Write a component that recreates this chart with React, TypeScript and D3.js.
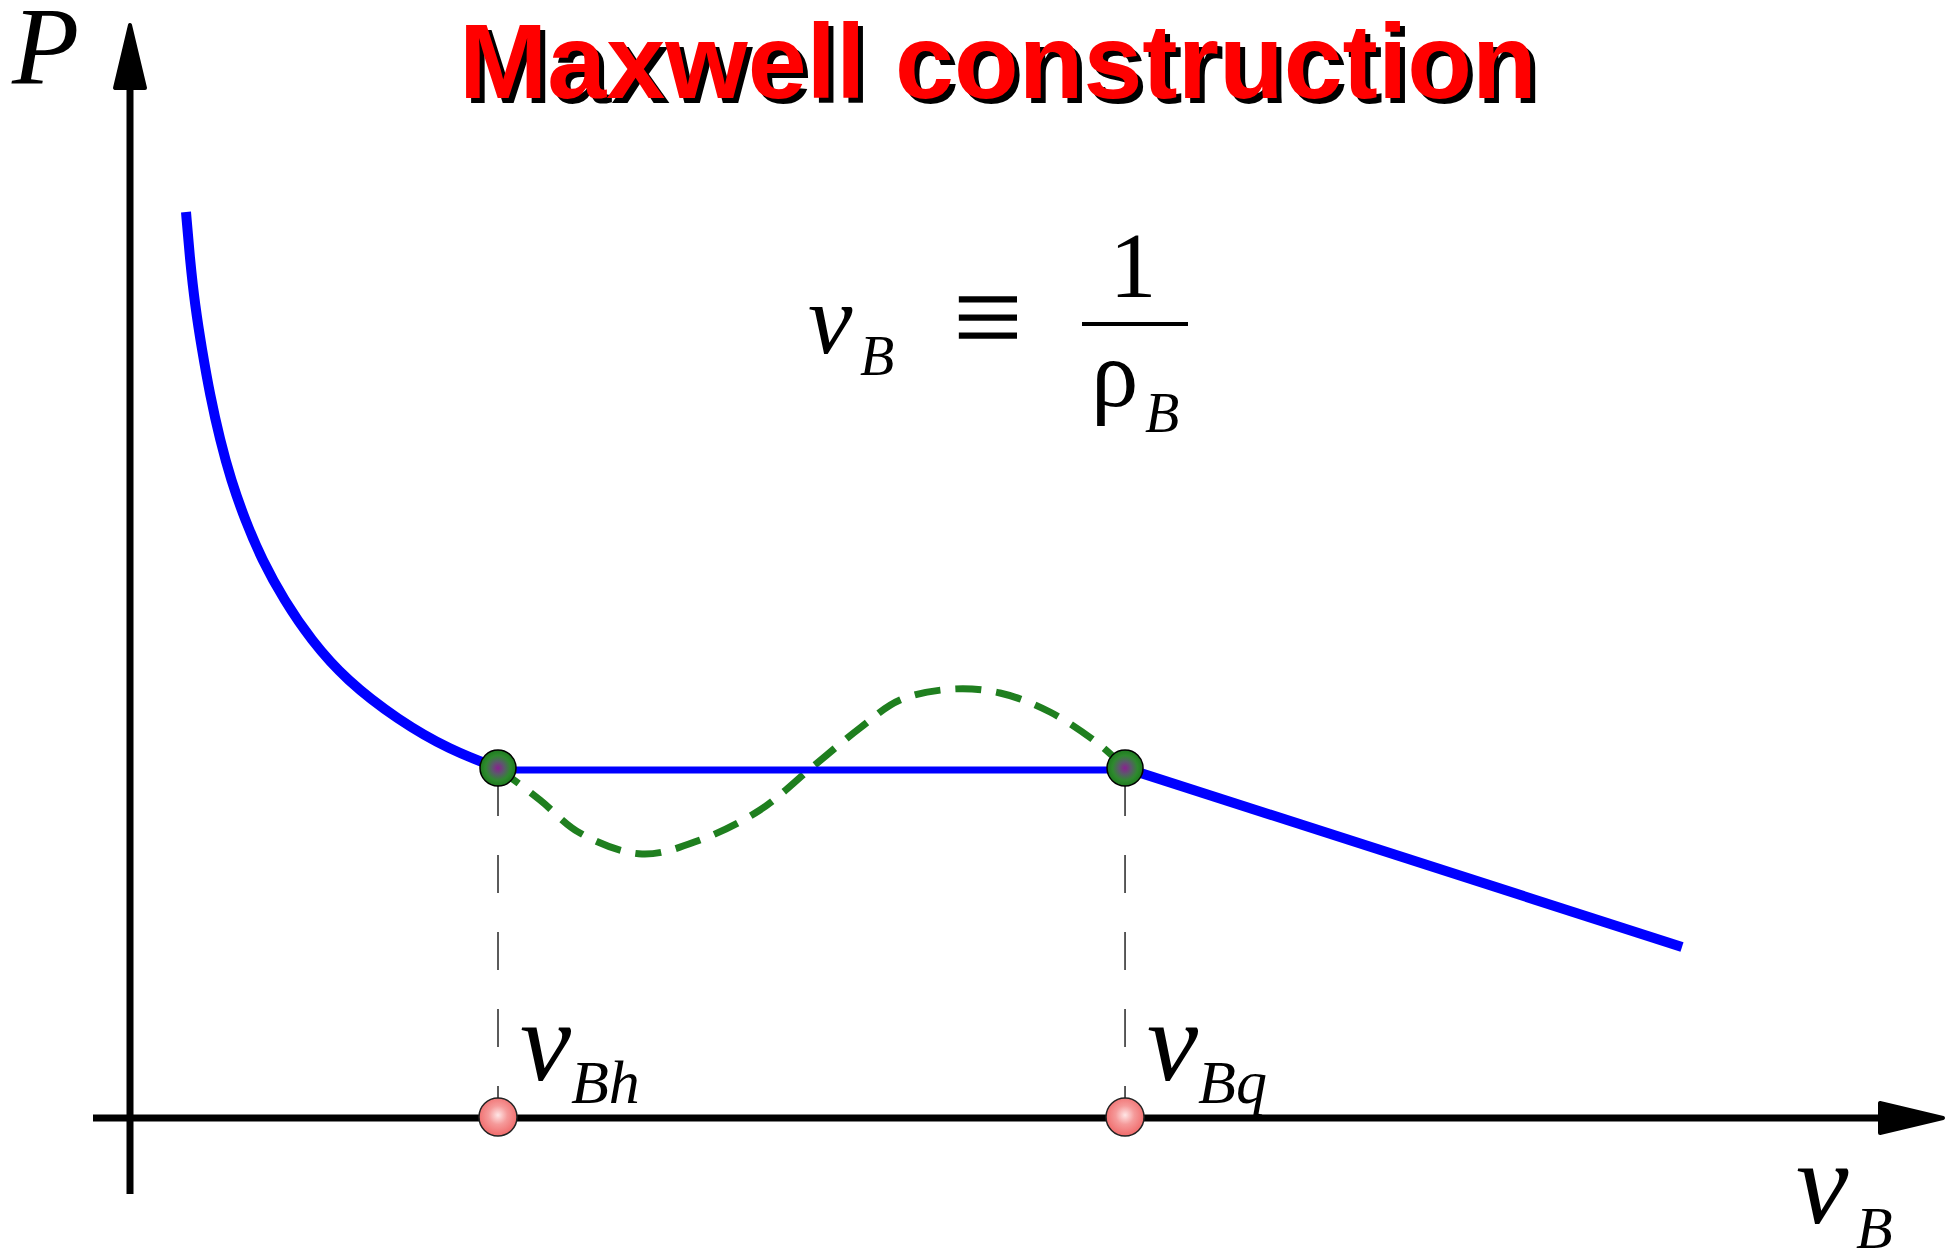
import React from "react";
import * as d3 from "d3";

// ---- data (in arbitrary v_B / P units) ----
const liquidV = [0.35, 0.375, 0.406, 0.45, 0.5, 0.5625, 0.631, 0.719, 0.825, 0.9625, 1.131, 1.35, 1.675, 2.0, 2.3];
const liquidP = [9.06, 8.58, 8.13, 7.68, 7.23, 6.78, 6.38, 5.98, 5.58, 5.18, 4.78, 4.38, 3.98, 3.68, 3.5];
const gasV = [6.219, 9.7];
const gasP = [3.5, 1.71];
const vdwV = [2.3, 2.5625, 2.8125, 3.2, 3.5625, 3.9375, 4.25, 4.5625, 4.8125, 5.144, 5.4375, 5.75, 6.0625, 6.219];
const vdwP = [3.5, 3.18, 2.85, 2.64, 2.78, 3.08, 3.49, 3.9, 4.18, 4.29, 4.25, 4.06, 3.73, 3.5];
const coexistV = [2.3, 6.219];
const coexistP = 3.5;
const pointLabels = ["Bh", "Bq"];

const W = 1954;
const H = 1256;

const x = d3.scaleLinear().domain([0, 10]).range([130, 1730]);
const y = d3.scaleLinear().domain([0, 10]).range([1118, 118]);

const lineGen = d3
  .line<[number, number]>()
  .x((d) => x(d[0]))
  .y((d) => y(d[1]));

const basisGen = d3
  .line<[number, number]>()
  .x((d) => x(d[0]))
  .y((d) => y(d[1]))
  .curve(d3.curveBasis);

const smoothGen = d3
  .line<[number, number]>()
  .x((d) => x(d[0]))
  .y((d) => y(d[1]))
  .curve(d3.curveCatmullRom.alpha(0.5));

const zip = (a: number[], b: number[]) => a.map((v, i) => [v, b[i]] as [number, number]);

const serif = "'Liberation Serif', 'Times New Roman', 'DejaVu Serif', serif";
const sans = "'Liberation Sans', Arial, Helvetica, sans-serif";

export default function App() {
  const x0 = x(0);
  const y0 = y(0);
  const title = "Maxwell construction";
  return (
    <svg width={W} height={H} viewBox={`0 0 ${W} ${H}`} style={{ display: "block", position: "absolute", left: 0, top: 0, background: "#fff" }}>
      <defs>
        <radialGradient id="greenDot" cx="50%" cy="50%" r="50%">
          <stop offset="0%" stopColor="#8a2090" />
          <stop offset="35%" stopColor="#5a5a6a" />
          <stop offset="70%" stopColor="#2e8a2e" />
          <stop offset="100%" stopColor="#1f7a1f" />
        </radialGradient>
        <radialGradient id="redDot" cx="50%" cy="45%" r="55%">
          <stop offset="0%" stopColor="#ffe6e6" />
          <stop offset="45%" stopColor="#f59a9a" />
          <stop offset="100%" stopColor="#f06a6a" />
        </radialGradient>
      </defs>
      <rect x={0} y={0} width={W} height={H} fill="#fff" />

      {/* Title with shadow */}
      <text x={464} y={103} fontFamily={sans} fontWeight="bold" fontSize={106} fill="#000">
        {title}
      </text>
      <text x={459} y={98} fontFamily={sans} fontWeight="bold" fontSize={106} fill="#ff0000">
        {title}
      </text>

      {/* axes */}
      <line x1={x0} y1={1194} x2={x0} y2={80} stroke="#000" strokeWidth={7} />
      <polygon points={`${x0},25 ${x0 - 15},88 ${x0 + 15},88`} fill="#000" stroke="#000" strokeWidth={4} strokeLinejoin="round" />
      <line x1={93} y1={y0} x2={1885} y2={y0} stroke="#000" strokeWidth={7} />
      <polygon points={`1943,${y0} 1880,${y0 - 15} 1880,${y0 + 15}`} fill="#000" stroke="#000" strokeWidth={4} strokeLinejoin="round" />

      {/* axis labels */}
      <text x={12} y={83} fontFamily={serif} fontStyle="italic" fontSize={110} fill="#000">P</text>
      <text x={1796} y={1223} fontFamily={serif} fontStyle="italic" fontSize={118} fill="#000">v</text>
      <text x={1856} y={1248} fontFamily={serif} fontStyle="italic" fontSize={60} fill="#000">B</text>

      {/* formula v_B ≡ 1/ρ_B */}
      <text x={808} y={353} fontFamily={serif} fontStyle="italic" fontSize={100} fill="#000">v</text>
      <text x={860} y={375} fontFamily={serif} fontStyle="italic" fontSize={56} fill="#000">B</text>
      <text x={988} y={359} textAnchor="middle" fontFamily={serif} fontSize={125} fill="#000">≡</text>
      <line x1={1082} y1={324} x2={1188} y2={324} stroke="#000" strokeWidth={4} />
      <text x={1133} y={297} textAnchor="middle" fontFamily={serif} fontSize={94} fill="#000">1</text>
      <text x={1091} y={406} fontFamily={serif} fontSize={95} fill="#000">ρ</text>
      <text x={1145} y={432} fontFamily={serif} fontStyle="italic" fontSize={56} fill="#000">B</text>

      {/* vertical dashed guides */}
      {coexistV.map((v, i) => (
        <line key={`g${i}`} x1={x(v)} y1={y(coexistP) + 10} x2={x(v)} y2={y0} stroke="#333" strokeWidth={1.6} strokeDasharray="38,39" />
      ))}

      {/* van der Waals loop (dashed green) */}
      <path d={smoothGen(zip(vdwV, vdwP)) || ""} fill="none" stroke="#1f7f1f" strokeWidth={7} strokeDasharray="26,15" />

      {/* blue isotherm */}
      <path d={basisGen(zip(liquidV, liquidP)) || ""} fill="none" stroke="#0000ff" strokeWidth={10} strokeLinecap="butt" />
      <path d={lineGen(zip(gasV, gasP)) || ""} fill="none" stroke="#0000ff" strokeWidth={10} />
      <line x1={x(coexistV[0])} y1={y(coexistP) + 2} x2={x(coexistV[1])} y2={y(coexistP) + 2} stroke="#0000ff" strokeWidth={7} />

      {/* coexistence points */}
      {coexistV.map((v, i) => (
        <circle key={`c${i}`} cx={x(v)} cy={y(coexistP)} r={18} fill="url(#greenDot)" stroke="#000" strokeWidth={1.5} />
      ))}
      {coexistV.map((v, i) => (
        <circle key={`r${i}`} cx={x(v)} cy={y0 - 1} r={19} fill="url(#redDot)" stroke="#222" strokeWidth={1.5} />
      ))}

      {/* point labels */}
      {coexistV.map((v, i) => (
        <g key={`l${i}`}>
          <text x={x(v) + 22} y={1080} fontFamily={serif} fontStyle="italic" fontSize={115} fill="#000">v</text>
          <text x={x(v) + 73} y={1103} fontFamily={serif} fontStyle="italic" fontSize={62} fill="#000">{pointLabels[i]}</text>
        </g>
      ))}
    </svg>
  );
}
